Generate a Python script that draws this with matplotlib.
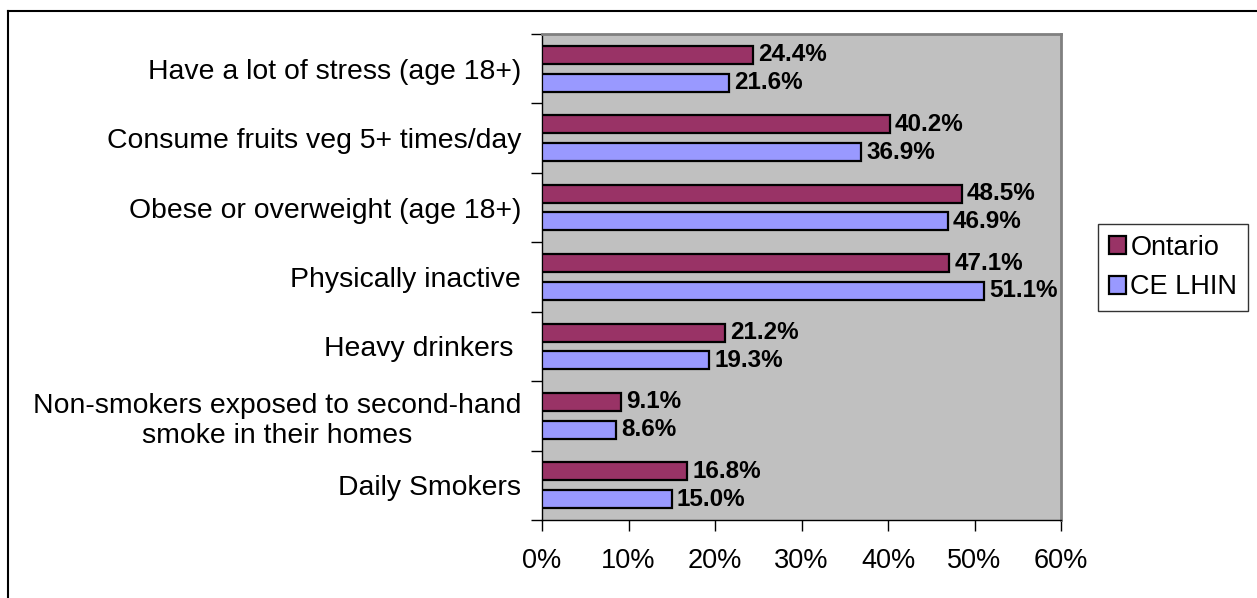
import numpy as np
import matplotlib.pyplot as plt
from matplotlib.lines import Line2D

plt.rcParams['font.family'] = ['Liberation Sans', 'DejaVu Sans']

# Health behaviours, bottom to top as they appear on the axis
categories = ['Daily Smokers',
              'Non-smokers exposed to second-hand\nsmoke in their homes',
              'Heavy drinkers ',
              'Physically inactive',
              'Obese or overweight (age 18+)',
              'Consume fruits veg 5+ times/day',
              'Have a lot of stress (age 18+)']
ontario = [16.8, 9.1, 21.2, 47.1, 48.5, 40.2, 24.4]
ce_lhin = [15.0, 8.6, 19.3, 51.1, 46.9, 36.9, 21.6]
xticks = [0, 10, 20, 30, 40, 50, 60]

W, H = 1257, 598
fig = plt.figure(figsize=(W / 100, H / 100), dpi=100)
ax = fig.add_axes([542/W, 1 - 520/H, (1061 - 542)/W, (520 - 34)/H])
ax.set_facecolor('#C0C0C0')

y = np.arange(len(categories))
h = 0.26
ax.barh(y + 0.2, ontario, height=h, color='#993366', edgecolor='black',
        linewidth=1.6, label='Ontario', zorder=3)
ax.barh(y - 0.2, ce_lhin, height=h, color='#9999FF', edgecolor='black',
        linewidth=1.6, label='CE LHIN', zorder=3)

for yi, v in zip(y, ontario):
    ax.text(v + 0.6, yi + 0.2, '%.1f%%' % v, va='center', ha='left',
            fontsize=17.5, fontweight='bold', zorder=4)
for yi, v in zip(y, ce_lhin):
    ax.text(v + 0.6, yi - 0.2, '%.1f%%' % v, va='center', ha='left',
            fontsize=17.5, fontweight='bold', zorder=4)

ax.set_xlim(0, 60)
ax.set_ylim(-0.5, len(categories) - 0.5)
ax.set_xticks(xticks)
ax.set_xticklabels(['%d%%' % t for t in xticks], fontsize=19.5)
ax.tick_params(axis='x', direction='out', length=8, width=1, pad=12)

# category separators as ticks, names as minor labels
ax.set_yticks(np.arange(len(categories) + 1) - 0.5)
ax.set_yticklabels([])
ax.set_yticks(y, minor=True)
ax.set_yticklabels(categories, minor=True, fontsize=20.4, multialignment='center')
ax.tick_params(axis='y', which='major', direction='out', length=8, width=1)
ax.tick_params(axis='y', which='minor', length=0, pad=15)

for s in ['top', 'right']:
    ax.spines[s].set_color('#808080')
    ax.spines[s].set_linewidth(2)
for s in ['left', 'bottom']:
    ax.spines[s].set_color('black')
    ax.spines[s].set_linewidth(1)

leg = fig.legend(loc='upper left', bbox_to_anchor=(1098/W, 1 - 224/H),
                 fontsize=19.5, frameon=True, fancybox=False,
                 handlelength=0.65, handleheight=0.65, handletextpad=0.15,
                 borderpad=0.4, labelspacing=0.5, borderaxespad=0)
leg.get_frame().set_edgecolor('black')
leg.get_frame().set_linewidth(1)

# chart area frame (left and top edges only)
fig.add_artist(Line2D([8/W, 8/W], [0, 1 - 11/H], transform=fig.transFigure,
                      color='black', linewidth=1.5))
fig.add_artist(Line2D([8/W, 1], [1 - 11/H, 1 - 11/H], transform=fig.transFigure,
                      color='black', linewidth=1.5))

fig.savefig('out.png', dpi=100)
